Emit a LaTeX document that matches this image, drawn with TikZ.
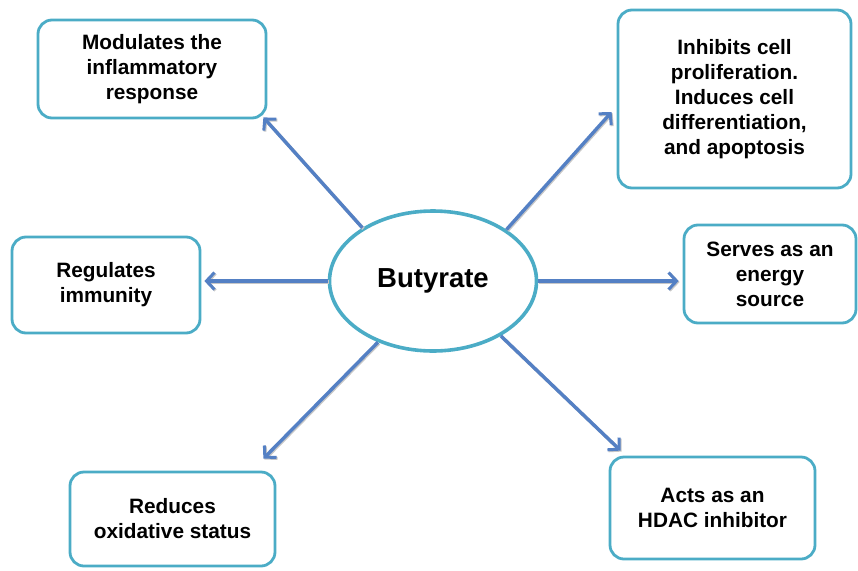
\documentclass[tikz,border=0pt]{standalone}
\usepackage{fontspec}
\setmainfont{Liberation Sans}
\usetikzlibrary{arrows.meta,calc,shapes.geometric}
\definecolor{boxteal}{RGB}{75,172,198}
\definecolor{arrowblue}{RGB}{84,128,196}
\tikzset{
  infobox/.style={draw=boxteal, line width=2.8pt, rounded corners=14pt, fill=white,
    align=center, inner sep=0pt,
    font=\fontsize{20.8pt}{25pt}\selectfont\bfseries},
  hub/.style={draw=boxteal, line width=3.6pt, ellipse, fill=white, inner sep=0pt,
    minimum width=207pt, minimum height=140pt,
    font=\fontsize{27.5pt}{32pt}\selectfont\bfseries},
  link/.style={draw=arrowblue, line width=3.4pt,
    -{Straight Barb[length=8pt,width=17pt,line width=3pt]},
    preaction={draw=black!22, line width=3.4pt, transform canvas={shift={(1pt,-1pt)}}, -{Straight Barb[length=8pt,width=17pt,line width=3pt]}}}
}
\begin{document}
\begin{tikzpicture}[x=1pt,y=-1pt]
\useasboundingbox (0,0) rectangle (858,570);
\node[hub] (but) at (433,281) {Butyrate};
\node[infobox, minimum width=228pt, minimum height=98pt] (b1) at (152,69)
  {Modulates the\\inflammatory\\response};
\node[infobox, minimum width=233pt, minimum height=178pt] (b2) at (734.5,99)
  {Inhibits cell\\proliferation.\\Induces cell\\differentiation,\\and apoptosis};
\node[infobox, minimum width=188pt, minimum height=96pt] (b3) at (106,285)
  {Regulates\\immunity};
\node[infobox, minimum width=172pt, minimum height=98pt] (b4) at (770,274)
  {Serves as an\\energy\\source};
\node[infobox, minimum width=205pt, minimum height=94pt] (b5) at (172.5,519)
  {Reduces\\oxidative status};
\node[infobox, minimum width=205pt, minimum height=102pt] (b6) at (712.5,508)
  {Acts as an\\HDAC inhibitor};
\coordinate (t1) at ($(b1.south east)+(-4,-2)$);
\coordinate (t2) at ($(b2.west)+(-5,13)$);
\coordinate (t5) at ($(b5.north east)+(-13,-12)$);
\coordinate (t6) at ($(b6.north west)+(12,-5)$);
\draw[link] (but.143) -- (t1);
\draw[link] (but.35) -- (t2);
\draw[link] (but.west) -- ($(but.west -| b3.east)+(3,0)$);
\draw[link] (but.east) -- ($(but.east -| b4.west)+(-4,0)$);
\draw[link] (but.228) -- (t5);
\draw[link] (but.321) -- (t6);
\end{tikzpicture}
\end{document}
